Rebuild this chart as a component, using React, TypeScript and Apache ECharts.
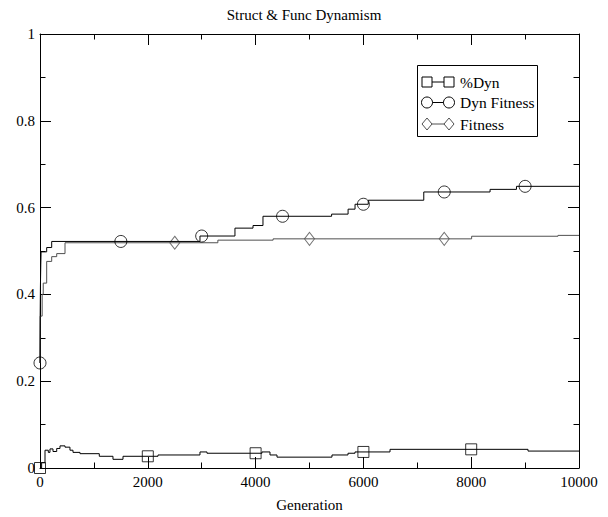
import React, { useEffect, useRef } from "react";
import * as echarts from "echarts";

// %Dyn (step change points)
const pctDynGen = [0, 30, 93, 154, 185, 241, 310, 371, 464, 556, 612, 742, 1100, 1354, 1540, 2189, 2968, 3098, 4118, 4267, 4397, 5417, 5714, 5844, 6494, 9054, 10000];
const pctDynVal = [0, 0.012, 0.041, 0.036, 0.044, 0.038, 0.045, 0.051, 0.048, 0.041, 0.036, 0.033, 0.027, 0.02, 0.027, 0.03, 0.037, 0.034, 0.037, 0.03, 0.025, 0.03, 0.034, 0.037, 0.043, 0.039, 0.039];

// Dyn Fitness
const dynFitGen = [0, 3, 8, 15, 20, 124, 217, 2968, 3617, 3952, 4137, 5410, 5716, 5845, 6090, 7120, 8350, 8840, 10000];
const dynFitVal = [0.242, 0.35, 0.42, 0.47, 0.498, 0.508, 0.522, 0.5345, 0.5527, 0.5587, 0.58, 0.585, 0.5964, 0.6077, 0.617, 0.636, 0.642, 0.649, 0.649];

// Fitness
const fitGen = [0, 4, 40, 60, 124, 217, 310, 464, 3300, 4325, 8008, 9610, 10000];
const fitVal = [0.242, 0.35, 0.4, 0.426, 0.476, 0.487, 0.494, 0.519, 0.525, 0.528, 0.534, 0.536, 0.536];

// marker positions (generations)
const pctDynMarks = [0, 2000, 4000, 6000, 8000];
const dynFitMarks = [0, 1500, 3000, 4500, 6000, 7500, 9000];
const fitMarks = [2500, 5000, 7500];

const xTicks = { min: 0, max: 10000, interval: 2000 };
const yTicks = { min: 0, max: 1, interval: 0.2 };

const titleText = "Struct & Func Dynamism";
const xName = "Generation";
const legendNames = ["%Dyn", "Dyn Fitness", "Fitness"];

const FONT = "Liberation Serif";
const GRAY = "#505050";

function valueAt(gens: number[], vals: number[], g: number) {
  let v = vals[0];
  for (let i = 0; i < gens.length; i++) if (gens[i] <= g) v = vals[i];
  return v;
}

function pairs(gens: number[], vals: number[]) {
  return gens.map((g, i) => [g, vals[i]]);
}

export default function App() {
  const ref = useRef<HTMLDivElement>(null);
  useEffect(() => {
    const chart = echarts.init(ref.current!, null, { renderer: "svg" });
    const axisCommon = {
      type: "value",
      axisLine: { show: true, onZero: false, lineStyle: { color: "#000", width: 1 } },
      axisTick: { show: true, inside: true, length: 11, lineStyle: { color: "#000", width: 1 } },
      minorTick: { show: true, splitNumber: 2, length: 5.5, lineStyle: { color: "#000", width: 1 } },
      splitLine: { show: false },
      minorSplitLine: { show: false },
    };
    const labelStyle = { color: "#000", fontFamily: FONT, fontSize: 15 };

    const lx1 = 427, lx2 = 449, rows = [82, 102.5, 124];
    const legendGraphic: any[] = [
      { type: "rect", shape: { x: 417.5, y: 65.5, width: 120, height: 71 }, style: { fill: "#fff", stroke: "#000", lineWidth: 1 }, z: 100 },
    ];
    rows.forEach((y, i) => {
      const color = i === 2 ? GRAY : "#000";
      legendGraphic.push({ type: "line", shape: { x1: lx1, y1: y, x2: lx2, y2: y }, style: { stroke: color, lineWidth: 1 }, z: 101 });
      [lx1, lx2].forEach((cx) => {
        if (i === 0) legendGraphic.push({ type: "rect", shape: { x: cx - 5, y: y - 5, width: 10, height: 10 }, style: { fill: "#fff", stroke: color, lineWidth: 1 }, z: 102 });
        if (i === 1) legendGraphic.push({ type: "circle", shape: { cx, cy: y, r: 5.5 }, style: { fill: "#fff", stroke: color, lineWidth: 1 }, z: 102 });
        if (i === 2) legendGraphic.push({ type: "polygon", shape: { points: [[cx, y - 6], [cx + 5, y], [cx, y + 6], [cx - 5, y]] }, style: { fill: "#fff", stroke: color, lineWidth: 1 }, z: 102 });
      });
      legendGraphic.push({
        type: "text",
        x: 460,
        y,
        style: { text: legendNames[i], fill: "#000", fontFamily: FONT, fontSize: 15.5, verticalAlign: "middle", align: "left" },
        z: 102,
      });
    });

    const markerStyle = (c: string) => ({ color: "transparent", borderColor: c, borderWidth: 1 });

    chart.setOption({
      animation: false,
      backgroundColor: "#fff",
      title: {
        text: titleText,
        left: "center",
        top: 2,
        textStyle: { fontFamily: FONT, fontSize: 15, fontWeight: "normal", color: "#000" },
      },
      grid: { left: 40, right: 29, top: 34, bottom: 42, containLabel: false },
      xAxis: [
        {
          ...axisCommon,
          ...xTicks,
          position: "bottom",
          axisLabel: { ...labelStyle, margin: 6, formatter: (v: number) => String(v) },
          name: xName,
          nameLocation: "middle",
          nameGap: 29,
          nameTextStyle: { ...labelStyle },
        },
        { ...axisCommon, ...xTicks, position: "top", axisLabel: { show: false } },
      ],
      yAxis: [
        { ...axisCommon, ...yTicks, position: "left", axisLabel: { ...labelStyle, margin: 5, formatter: (v: number) => String(v) } },
        { ...axisCommon, ...yTicks, position: "right", axisLabel: { show: false } },
      ],
      graphic: legendGraphic,
      series: [
        { name: legendNames[0], type: "line", step: "end", data: pairs(pctDynGen, pctDynVal), showSymbol: false, lineStyle: { color: "#000", width: 1 }, silent: true },
        { name: legendNames[1], type: "line", step: "end", data: pairs(dynFitGen, dynFitVal), showSymbol: false, lineStyle: { color: "#000", width: 1 }, silent: true },
        { name: legendNames[2], type: "line", step: "end", data: pairs(fitGen, fitVal), showSymbol: false, lineStyle: { color: GRAY, width: 1 }, silent: true, z: 1 },
        { type: "scatter", symbol: "rect", symbolSize: 11, data: pctDynMarks.map((g) => [g, valueAt(pctDynGen, pctDynVal, g)]), itemStyle: markerStyle("#000"), silent: true },
        { type: "scatter", symbol: "circle", symbolSize: 12, data: dynFitMarks.map((g) => [g, valueAt(dynFitGen, dynFitVal, g)]), itemStyle: markerStyle("#000"), silent: true },
        { type: "scatter", symbol: "diamond", symbolSize: [10, 13], data: fitMarks.map((g) => [g, valueAt(fitGen, fitVal, g)]), itemStyle: markerStyle(GRAY), silent: true },
      ],
    });
    return () => chart.dispose();
  }, []);
  return <div ref={ref} style={{ position: "fixed", left: 0, top: 0, width: 608, height: 517 }} />;
}
